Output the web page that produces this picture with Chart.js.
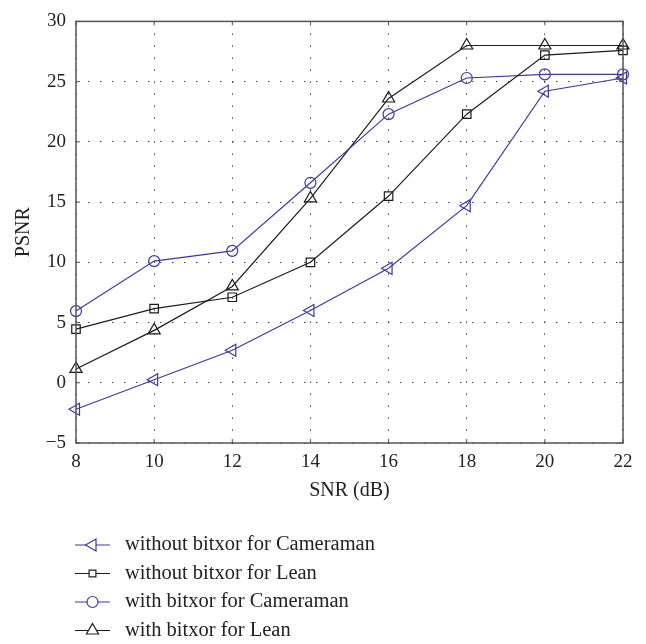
<!DOCTYPE html>
<html>
<head>
<meta charset="utf-8">
<script src="https://cdn.jsdelivr.net/npm/chart.js@4.4.1/dist/chart.umd.min.js"></script>
<style>
  html, body { margin: 0; padding: 0; background: #fff; }
  #wrap { width: 646px; height: 644px; }
</style>
</head>
<body>
<div id="wrap"><canvas id="psnrChart" width="646" height="644"></canvas></div>
<script>
// SNR sweep (dB) and PSNR per scheme
const snrValues = [8, 10, 12, 14, 16, 18, 20, 22];
const psnrNoXorCameraman = [-2.2, 0.25, 2.7, 6.0, 9.5, 14.7, 24.2, 25.3];
const psnrNoXorLean = [4.45, 6.15, 7.1, 10.0, 15.5, 22.3, 27.2, 27.6];
const psnrXorCameraman = [5.95, 10.1, 10.95, 16.6, 22.3, 25.3, 25.6, 25.6];
const psnrXorLean = [1.15, 4.35, 8.0, 15.3, 23.6, 28.0, 28.0, 28.0];
const seriesLabels = [
  'without bitxor for Cameraman',
  'without bitxor for Lean',
  'with bitxor for Cameraman',
  'with bitxor for Lean',
];
const yTicks = [-5, 0, 5, 10, 15, 20, 25, 30];
const xTicks = [8, 10, 12, 14, 16, 18, 20, 22];

const BLUE = '#3d3a9c';
const BLACK = '#1c1c1c';
const FONT = '"Liberation Serif", "Times New Roman", serif';
const axisColor = '#555';
const textColor = '#222';

function series(label, values, color, style, rotation, radius) {
  return {
    label,
    data: snrValues.map((x, i) => ({ x, y: values[i] })),
    borderColor: color,
    backgroundColor: 'rgba(0,0,0,0)',
    borderWidth: 1.2,
    pointStyle: style,
    rotation,
    pointRadius: radius,
    pointHoverRadius: radius,
    pointBorderWidth: 1.2,
    pointBorderColor: color,
    pointBackgroundColor: 'rgba(0,0,0,0)',
    tension: 0,
    clip: false,
  };
}

// frame round the plot plus short inward ticks, matlab style
const boxFrame = {
  id: 'boxFrame',
  afterDatasetsDraw(chart) {
    const { ctx, chartArea: a, scales } = chart;
    ctx.save();
    ctx.strokeStyle = axisColor;
    ctx.lineWidth = 1.5;
    ctx.strokeRect(a.left, a.top, a.right - a.left, a.bottom - a.top);
    ctx.lineWidth = 1;
    ctx.beginPath();
    xTicks.forEach(v => {
      const px = scales.x.getPixelForValue(v);
      ctx.moveTo(px, a.bottom); ctx.lineTo(px, a.bottom - 4);
      ctx.moveTo(px, a.top); ctx.lineTo(px, a.top + 4);
    });
    yTicks.forEach(v => {
      const py = scales.y.getPixelForValue(v);
      ctx.moveTo(a.left, py); ctx.lineTo(a.left + 4, py);
      ctx.moveTo(a.right, py); ctx.lineTo(a.right - 4, py);
    });
    ctx.stroke();
    ctx.restore();
  },
};

// legend under the plot: line sample with marker, then label
const lineLegend = {
  id: 'lineLegend',
  afterDraw(chart) {
    const ctx = chart.ctx;
    const x0 = 75, x1 = 110, textX = 125, top = 545, row = 28.5;
    chart.data.datasets.forEach((ds, i) => {
      const y = top + i * row;
      ctx.save();
      ctx.strokeStyle = ds.borderColor;
      ctx.lineWidth = ds.borderWidth;
      ctx.beginPath();
      ctx.moveTo(x0, y);
      ctx.lineTo(x1, y);
      ctx.stroke();
      ctx.fillStyle = '#fff';
      ctx.lineWidth = ds.pointBorderWidth;
      Chart.helpers.drawPoint(ctx, {
        pointStyle: ds.pointStyle,
        rotation: ds.rotation,
        radius: ds.pointStyle === 'rect' ? ds.pointRadius * 0.8 : ds.pointRadius,
        borderWidth: ds.pointBorderWidth,
      }, (x0 + x1) / 2, y);
      ctx.fillStyle = textColor;
      ctx.font = '20.5px ' + FONT;
      ctx.textBaseline = 'middle';
      ctx.textAlign = 'left';
      ctx.fillText(ds.label, textX, y);
      ctx.restore();
    });
  },
};

const ctx = document.getElementById('psnrChart').getContext('2d');
new Chart(ctx, {
  type: 'line',
  data: {
    datasets: [
      series(seriesLabels[0], psnrNoXorCameraman, BLUE, 'triangle', -90, 7),
      series(seriesLabels[1], psnrNoXorLean, BLACK, 'rect', 0, 6),
      series(seriesLabels[2], psnrXorCameraman, BLUE, 'circle', 0, 5.5),
      series(seriesLabels[3], psnrXorLean, BLACK, 'triangle', 0, 7),
    ],
  },
  options: {
    responsive: false,
    animation: false,
    layout: { padding: { top: 12, right: 23, bottom: 141, left: 0 } },
    plugins: {
      legend: { display: false },
      tooltip: { enabled: false },
    },
    scales: {
      x: {
        type: 'linear',
        min: 8,
        max: 22,
        afterBuildTicks: (s) => { s.ticks = xTicks.map(v => ({ value: v })); },
        afterFit: (s) => { s.height = 60; },
        ticks: { color: textColor, padding: 8, font: { family: FONT, size: 19 } },
        grid: { color: '#444', lineWidth: 1, drawTicks: false },
        border: { display: false, dash: [1.5, 10.5] },
        title: {
          display: true,
          text: 'SNR (dB)',
          color: textColor,
          font: { family: FONT, size: 20 },
          padding: { top: 6, bottom: 0 },
        },
      },
      y: {
        min: -5,
        max: 30,
        afterBuildTicks: (s) => { s.ticks = yTicks.map(v => ({ value: v })); },
        afterFit: (s) => { s.width = 76; },
        ticks: {
          color: textColor,
          padding: 10,
          font: { family: FONT, size: 19 },
          callback: (v) => String(v).replace('-', '\u2212'),
        },
        grid: { color: '#444', lineWidth: 1, drawTicks: false },
        border: { display: false, dash: [1.5, 10.5] },
        title: {
          display: true,
          text: 'PSNR',
          color: textColor,
          font: { family: FONT, size: 20 },
          padding: { top: 12, bottom: 0 },
        },
      },
    },
  },
  plugins: [boxFrame, lineLegend],
});
</script>
</body>
</html>
